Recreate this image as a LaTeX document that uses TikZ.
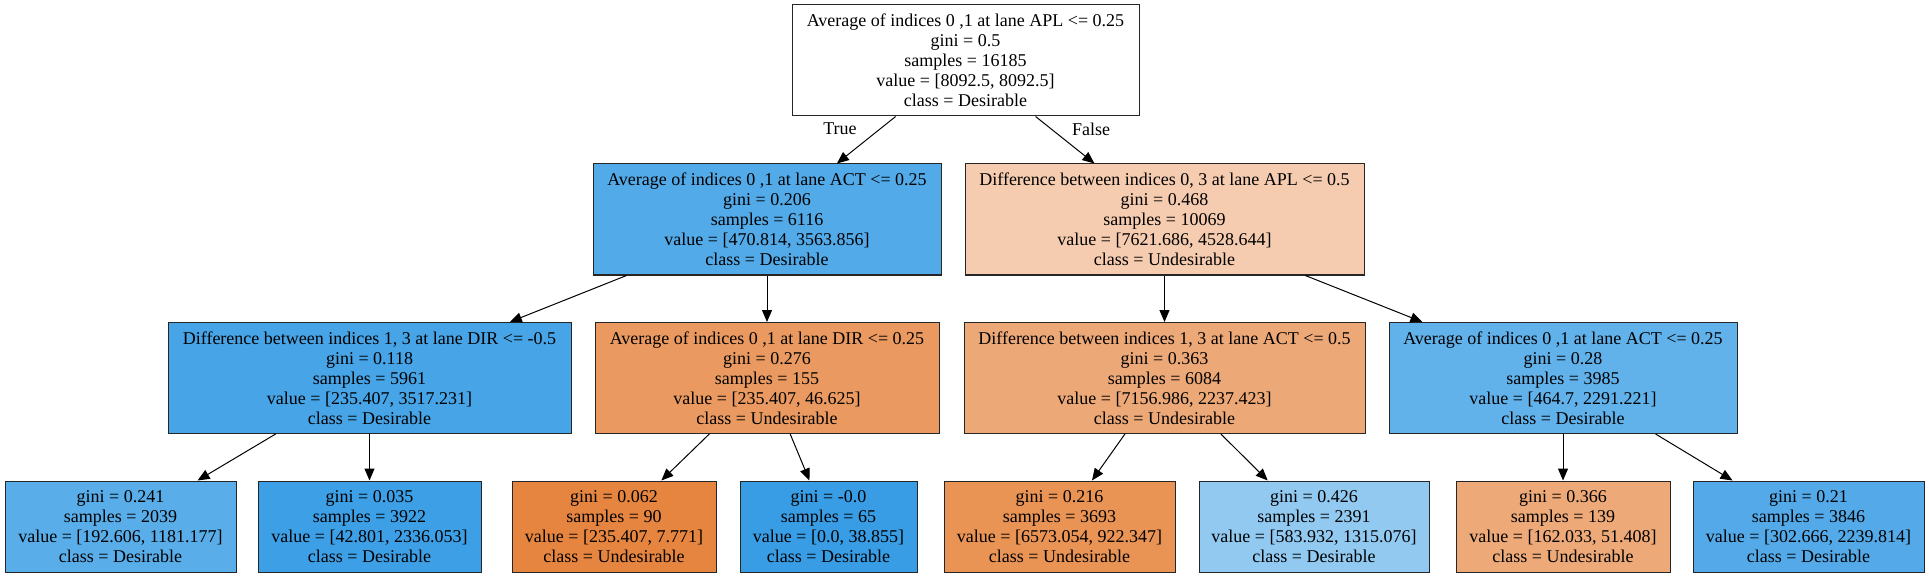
\documentclass[tikz,border=0pt]{standalone}
\usepackage{fontspec}
\setmainfont{Liberation Serif}
\usepackage{tikz}
\usetikzlibrary{arrows.meta,shapes}
\definecolor{rootfill}{RGB}{255,255,255}
\definecolor{actfill}{RGB}{83,170,232}
\definecolor{aplfill}{RGB}{245,204,175}
\definecolor{dirfill}{RGB}{70,164,231}
\definecolor{avgdirfill}{RGB}{234,154,96}
\definecolor{diffactfill}{RGB}{237,168,119}
\definecolor{avgactfill}{RGB}{97,177,234}
\definecolor{leafa}{RGB}{89,173,233}
\definecolor{leafb}{RGB}{61,159,229}
\definecolor{leafc}{RGB}{230,133,64}
\definecolor{leafd}{RGB}{57,157,229}
\definecolor{leafe}{RGB}{233,147,85}
\definecolor{leaff}{RGB}{145,201,241}
\definecolor{leafg}{RGB}{237,169,120}
\definecolor{leafh}{RGB}{84,170,233}
\tikzstyle{split}=[rectangle,draw=black!85,line width=1pt,inner sep=0pt,minimum height=111pt,align=center,font=\fontsize{18}{20}\selectfont]
\tikzstyle{leaf}=[split,minimum height=91pt]
\tikzstyle{branch}=[draw,line width=1pt,-{Triangle[length=12pt,width=10pt]}]
\tikzstyle{lbl}=[font=\fontsize{18}{20}\selectfont]

\begin{document}
\begin{tikzpicture}[x=1pt,y=-1pt]
        \useasboundingbox (0,0) rectangle (1929,577);
        % splits
        \node[split,fill=rootfill,minimum width=347pt] (root) at (965.5,60.5) {Average of indices 0 ,1 at lane APL <= 0.25\\gini = 0.5\\samples = 16185\\value = [8092.5, 8092.5]\\class = Desirable};
        \node[split,fill=actfill,minimum width=348pt] (act) at (767,219.5) {Average of indices 0 ,1 at lane ACT <= 0.25\\gini = 0.206\\samples = 6116\\value = [470.814, 3563.856]\\class = Desirable};
        \node[split,fill=aplfill,minimum width=399pt] (apl) at (1164.5,219.5) {Difference between indices 0, 3 at lane APL <= 0.5\\gini = 0.468\\samples = 10069\\value = [7621.686, 4528.644]\\class = Undesirable};
        \node[split,fill=dirfill,minimum width=403pt] (dir) at (369.5,378) {Difference between indices 1, 3 at lane DIR <= -0.5\\gini = 0.118\\samples = 5961\\value = [235.407, 3517.231]\\class = Desirable};
        \node[split,fill=avgdirfill,minimum width=344pt] (avgdir) at (767,378) {Average of indices 0 ,1 at lane DIR <= 0.25\\gini = 0.276\\samples = 155\\value = [235.407, 46.625]\\class = Undesirable};
        \node[split,fill=diffactfill,minimum width=401pt] (diffact) at (1164.5,378) {Difference between indices 1, 3 at lane ACT <= 0.5\\gini = 0.363\\samples = 6084\\value = [7156.986, 2237.423]\\class = Undesirable};
        \node[split,fill=avgactfill,minimum width=348pt] (avgact) at (1563,378) {Average of indices 0 ,1 at lane ACT <= 0.25\\gini = 0.28\\samples = 3985\\value = [464.7, 2291.221]\\class = Desirable};
        % leaves
        \node[leaf,fill=leafa,minimum width=231pt] (la) at (120.5,526.5) {gini = 0.241\\samples = 2039\\value = [192.606, 1181.177]\\class = Desirable};
        \node[leaf,fill=leafb,minimum width=223pt] (lb) at (369.5,526.5) {gini = 0.035\\samples = 3922\\value = [42.801, 2336.053]\\class = Desirable};
        \node[leaf,fill=leafc,minimum width=204pt] (lc) at (614,526.5) {gini = 0.062\\samples = 90\\value = [235.407, 7.771]\\class = Undesirable};
        \node[leaf,fill=leafd,minimum width=177pt] (ld) at (828.5,526.5) {gini = -0.0\\samples = 65\\value = [0.0, 38.855]\\class = Desirable};
        \node[leaf,fill=leafe,minimum width=231pt] (le) at (1059.5,526.5) {gini = 0.216\\samples = 3693\\value = [6573.054, 922.347]\\class = Undesirable};
        \node[leaf,fill=leaff,minimum width=230pt] (lf) at (1314,526.5) {gini = 0.426\\samples = 2391\\value = [583.932, 1315.076]\\class = Desirable};
        \node[leaf,fill=leafg,minimum width=214pt] (lg) at (1563,526.5) {gini = 0.366\\samples = 139\\value = [162.033, 51.408]\\class = Undesirable};
        \node[leaf,fill=leafh,minimum width=231pt] (lh) at (1808.5,526.5) {gini = 0.21\\samples = 3846\\value = [302.666, 2239.814]\\class = Desirable};
        \node[lbl] (true) at (840,129) {True};
        \node[lbl] (false) at (1091,129) {False};
        \draw[branch] (root) to (act);
        \draw[branch] (root) to (apl);
        \draw[branch] (act) to (dir);
        \draw[branch] (act) to (avgdir);
        \draw[branch] (apl) to (diffact);
        \draw[branch] (apl) to (avgact);
        \draw[branch] (dir) to (la);
        \draw[branch] (dir) to (lb);
        \draw[branch] (avgdir) to (lc);
        \draw[branch] (avgdir) to (ld);
        \draw[branch] (diffact) to (le);
        \draw[branch] (diffact) to (lf);
        \draw[branch] (avgact) to (lg);
        \draw[branch] (avgact) to (lh);
      \end{tikzpicture}
\end{document}
